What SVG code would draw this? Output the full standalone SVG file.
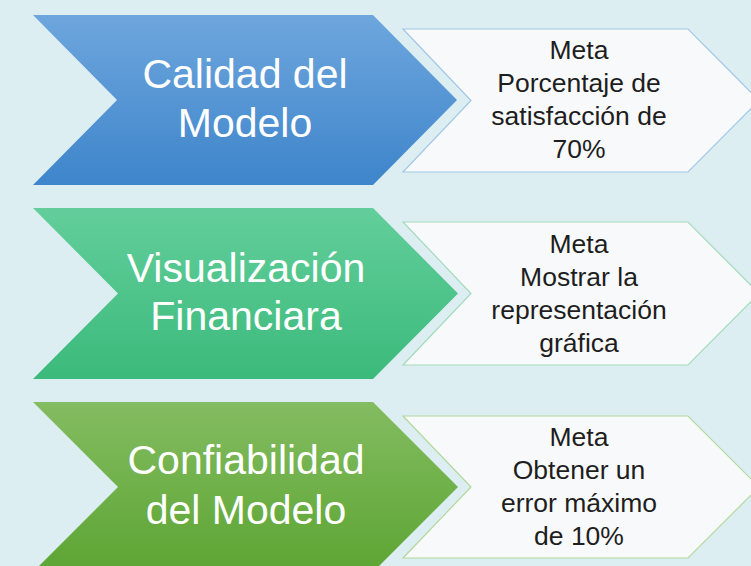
<svg xmlns="http://www.w3.org/2000/svg" width="751" height="566" viewBox="0 0 751 566">
  <defs>
    <linearGradient id="gBlue" x1="0" y1="0" x2="0" y2="1">
      <stop offset="0" stop-color="#6ea6dd"/>
      <stop offset="1" stop-color="#3e85cb"/>
    </linearGradient>
    <linearGradient id="gGreen" x1="0" y1="0" x2="0" y2="1">
      <stop offset="0" stop-color="#63ce9b"/>
      <stop offset="1" stop-color="#3bba7b"/>
    </linearGradient>
    <linearGradient id="gOlive" x1="0" y1="0" x2="0" y2="1">
      <stop offset="0" stop-color="#84bc61"/>
      <stop offset="1" stop-color="#5ca533"/>
    </linearGradient>
  </defs>
  <style>
    .big { font-family: "Liberation Sans", Arial, sans-serif; font-size: 41px; fill: #ffffff; text-anchor: middle; }
    .small { font-family: "Liberation Sans", Arial, sans-serif; font-size: 26.5px; fill: #1e1e1e; text-anchor: middle; }
    .box { fill: #f8f9fb; stroke-width: 1.2; }
  </style>
  <rect x="0" y="0" width="751" height="566" fill="#ddeef2"/>

  <g id="calidad">
    <polygon points="33,15 373,15 457,100 373,185 33,185 117,100" fill="url(#gBlue)"/>
    <text class="big" x="245" y="88">Calidad del</text>
    <text class="big" x="245" y="137">Modelo</text>
  </g>
  <g id="meta1">
    <polygon class="box" stroke="#a2c7e6" points="403,29 688,29 759,100.5 688,172 403,172 471,100.5"/>
    <text class="small" x="579" y="59">Meta</text>
    <text class="small" x="579" y="92">Porcentaje de</text>
    <text class="small" x="579" y="125">satisfacción de</text>
    <text class="small" x="579" y="158">70%</text>
  </g>

  <g id="visualizacion">
    <polygon points="33,208 373,208 458,293.5 373,379 33,379 118,293.5" fill="url(#gGreen)"/>
    <text class="big" x="246" y="282">Visualización</text>
    <text class="big" x="246" y="330">Financiara</text>
  </g>
  <g id="meta2">
    <polygon class="box" stroke="#a2dbbb" points="403,222 688,222 759,293.5 688,365 403,365 471,293.5"/>
    <text class="small" x="579" y="253">Meta</text>
    <text class="small" x="579" y="286">Mostrar la</text>
    <text class="small" x="579" y="319">representación</text>
    <text class="small" x="579" y="352">gráfica</text>
  </g>

  <g id="confiabilidad">
    <polygon points="33,402 373,402 458,487 373,572 33,572 118,487" fill="url(#gOlive)"/>
    <text class="big" x="246" y="474">Confiabilidad</text>
    <text class="big" x="246" y="524">del Modelo</text>
  </g>
  <g id="meta3">
    <polygon class="box" stroke="#b2d89b" points="403,416 688,416 759,487 688,558 403,558 471,487"/>
    <text class="small" x="579" y="446">Meta</text>
    <text class="small" x="579" y="479">Obtener un</text>
    <text class="small" x="579" y="512">error máximo</text>
    <text class="small" x="579" y="545">de 10%</text>
  </g>

  <g id="connectors"></g>
</svg>
